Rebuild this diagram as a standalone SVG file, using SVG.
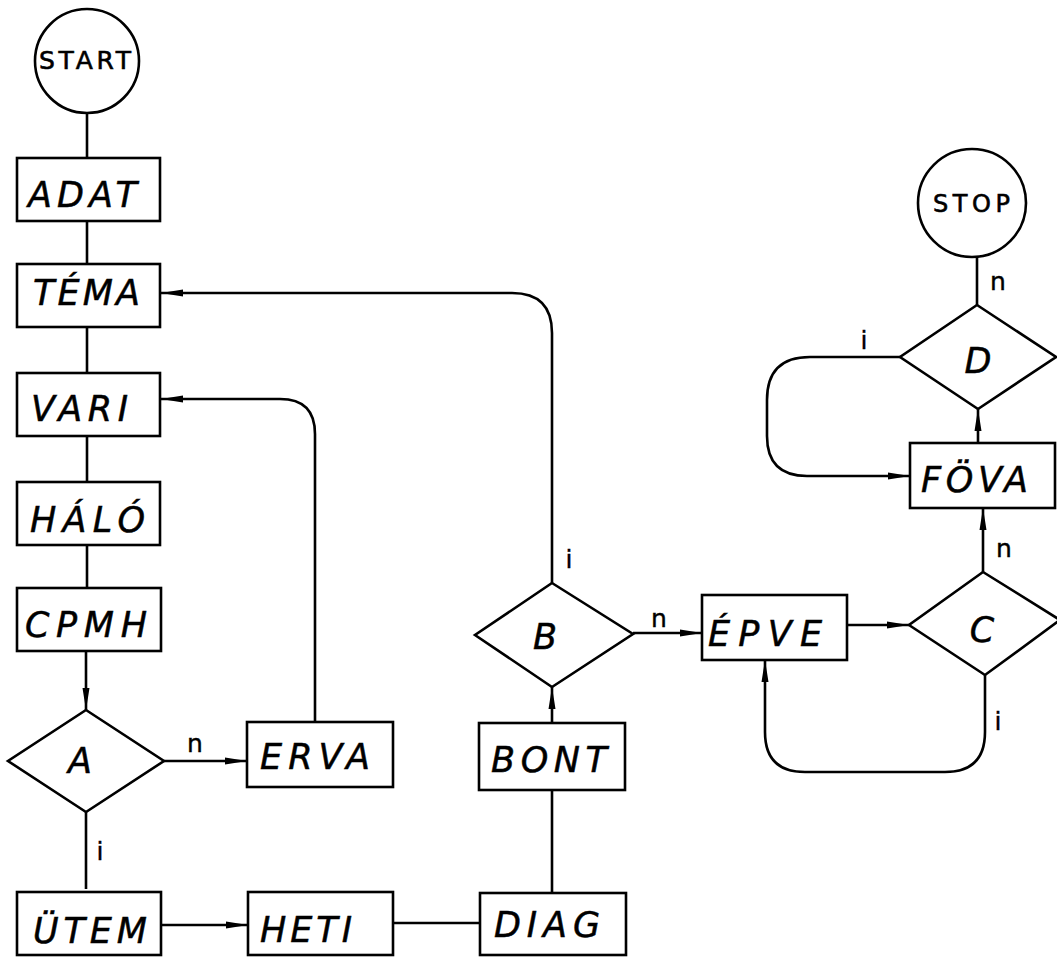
<svg xmlns="http://www.w3.org/2000/svg" width="1057" height="957" viewBox="0 0 1057 957">
  <style>
    .box { fill: #fff; stroke: #000; stroke-width: 2.6; }
    .dec { fill: #fff; stroke: #000; stroke-width: 2.6; stroke-linejoin: miter; }
    .term { fill: #fff; stroke: #000; stroke-width: 2.6; }
    .lbl { font-family: "DejaVu Sans", "Liberation Sans", sans-serif; font-style: italic; font-size: 35px; fill: #000; stroke: #000; stroke-width: 0.5; }
    .tlbl { font-family: "DejaVu Sans", "Liberation Sans", sans-serif; font-size: 24px; fill: #000; stroke: #000; stroke-width: 0.6; }
    .yn { font-family: "DejaVu Sans", "Liberation Sans", sans-serif; font-size: 25px; fill: #000; stroke: #000; stroke-width: 0.4; }
    .wire { fill: none; stroke: #000; stroke-width: 2.6; }
    .arr { marker-end: url(#head); }
  </style>
  <defs>
    <!-- long narrow filled arrowhead used on every directed connector -->
    <marker id="head" viewBox="0 0 22 8" refX="22" refY="4" markerWidth="22" markerHeight="8" markerUnits="userSpaceOnUse" orient="auto">
      <path d="M0,0.5 L22,4 L0,7.5 Z" fill="#000"/>
    </marker>
  </defs>
  <rect width="1057" height="957" fill="#fff"/>

  <!-- connectors -->
  <g id="connectors">
    <line class="wire" x1="87" y1="114" x2="87" y2="158"/>
    <line class="wire" x1="87" y1="221" x2="87" y2="264"/>
    <line class="wire" x1="87" y1="327" x2="87" y2="373"/>
    <line class="wire" x1="87" y1="436" x2="87" y2="482"/>
    <line class="wire" x1="87" y1="545" x2="87" y2="588"/>
    <line class="wire arr" x1="86" y1="651" x2="86" y2="710"/>
    <line class="wire" x1="86" y1="812" x2="86" y2="889"/>
    <line class="wire arr" x1="164" y1="761" x2="247" y2="761"/>
    <path class="wire arr" d="M315,722 V434 Q315,399 280,399 H161"/>
    <line class="wire arr" x1="162" y1="925" x2="248" y2="925"/>
    <line class="wire" x1="393" y1="923" x2="480" y2="923"/>
    <line class="wire" x1="552" y1="893" x2="552" y2="790"/>
    <line class="wire arr" x1="552" y1="723" x2="552" y2="687"/>
    <path class="wire arr" d="M552,583 V333 Q552,293 512,293 H161"/>
    <line class="wire arr" x1="633" y1="633" x2="702" y2="633"/>
    <line class="wire arr" x1="847" y1="625" x2="909" y2="625"/>
    <line class="wire arr" x1="983" y1="572" x2="983" y2="508"/>
    <path class="wire arr" d="M985,675 V732 Q985,772 945,772 H805 Q765,772 765,732 V660"/>
    <line class="wire arr" x1="978" y1="443" x2="978" y2="409"/>
    <line class="wire" x1="977" y1="305" x2="977" y2="257"/>
    <path class="wire arr" d="M900,357 H810 Q767,357 767,400 V436 Q767,476 807,476 H910"/>
  </g>

  <!-- terminals -->
  <g id="start">
    <circle class="term" cx="87" cy="61" r="52"/>
    <text class="tlbl" x="39" y="69" textLength="92" lengthAdjust="spacing" style="font-size:25px">START</text>
  </g>
  <g id="stop">
    <circle class="term" cx="972" cy="203" r="54"/>
    <text class="tlbl" x="933" y="212" textLength="77" lengthAdjust="spacing">STOP</text>
  </g>

  <!-- process boxes -->
  <g id="adat">
    <rect class="box" x="17" y="158" width="143" height="63"/>
    <text class="lbl" x="28" y="207" textLength="109" lengthAdjust="spacing">ADAT</text>
  </g>
  <g id="tema">
    <rect class="box" x="17" y="264" width="143" height="63"/>
    <text class="lbl" x="33" y="305" textLength="107" lengthAdjust="spacing">TÉMA</text>
  </g>
  <g id="vari">
    <rect class="box" x="17" y="373" width="143" height="63"/>
    <text class="lbl" x="31" y="421" textLength="97" lengthAdjust="spacing">VARI</text>
  </g>
  <g id="halo">
    <rect class="box" x="17" y="482" width="143" height="63"/>
    <text class="lbl" x="30" y="532" textLength="115" lengthAdjust="spacing">HÁLÓ</text>
  </g>
  <g id="cpmh">
    <rect class="box" x="17" y="588" width="144" height="63"/>
    <text class="lbl" x="25" y="637" textLength="122" lengthAdjust="spacing">CPMH</text>
  </g>
  <g id="utem">
    <rect class="box" x="17" y="892" width="144" height="63"/>
    <text class="lbl" x="33" y="943" textLength="114" lengthAdjust="spacing">ÜTEM</text>
  </g>
  <g id="erva">
    <rect class="box" x="247" y="722" width="146" height="65"/>
    <text class="lbl" x="260" y="769" textLength="110" lengthAdjust="spacing">ERVA</text>
  </g>
  <g id="heti">
    <rect class="box" x="248" y="892" width="145" height="63"/>
    <text class="lbl" x="260" y="942" textLength="92" lengthAdjust="spacing">HETI</text>
  </g>
  <g id="diag">
    <rect class="box" x="480" y="893" width="146" height="62"/>
    <text class="lbl" x="494" y="937" textLength="106" lengthAdjust="spacing">DIAG</text>
  </g>
  <g id="bont">
    <rect class="box" x="479" y="723" width="146" height="67"/>
    <text class="lbl" x="491" y="772" textLength="116" lengthAdjust="spacing">BONT</text>
  </g>
  <g id="epve">
    <rect class="box" x="702" y="595" width="145" height="65"/>
    <text class="lbl" x="708" y="646" textLength="114" lengthAdjust="spacing">ÉPVE</text>
  </g>
  <g id="fova">
    <rect class="box" x="910" y="443" width="145" height="65"/>
    <text class="lbl" x="921" y="492" textLength="107" lengthAdjust="spacing">FÖVA</text>
  </g>

  <!-- decisions -->
  <g id="dec-a">
    <polygon class="dec" points="86,710 164,761 86,812 8,761"/>
    <text class="lbl" x="80" y="773" text-anchor="middle">A</text>
  </g>
  <g id="dec-b">
    <polygon class="dec" points="552,583 633,634 552,687 475,635"/>
    <text class="lbl" x="545" y="649" text-anchor="middle">B</text>
  </g>
  <g id="dec-c">
    <polygon class="dec" points="983,572 1060,620 985,675 909,625"/>
    <text class="lbl" x="982" y="642" text-anchor="middle">C</text>
  </g>
  <g id="dec-d">
    <polygon class="dec" points="977,305 1056,357 978,409 900,357"/>
    <text class="lbl" x="978" y="373" text-anchor="middle">D</text>
  </g>

  <!-- branch labels -->
  <g id="branch-labels">
    <text class="yn" x="195" y="752" text-anchor="middle">n</text>
    <text class="yn" x="100" y="860" text-anchor="middle">i</text>
    <text class="yn" x="569" y="568" text-anchor="middle">i</text>
    <text class="yn" x="659" y="627" text-anchor="middle">n</text>
    <text class="yn" x="1004" y="557" text-anchor="middle">n</text>
    <text class="yn" x="998" y="730" text-anchor="middle">i</text>
    <text class="yn" x="998" y="290" text-anchor="middle">n</text>
    <text class="yn" x="864" y="349" text-anchor="middle">i</text>
  </g>
</svg>
